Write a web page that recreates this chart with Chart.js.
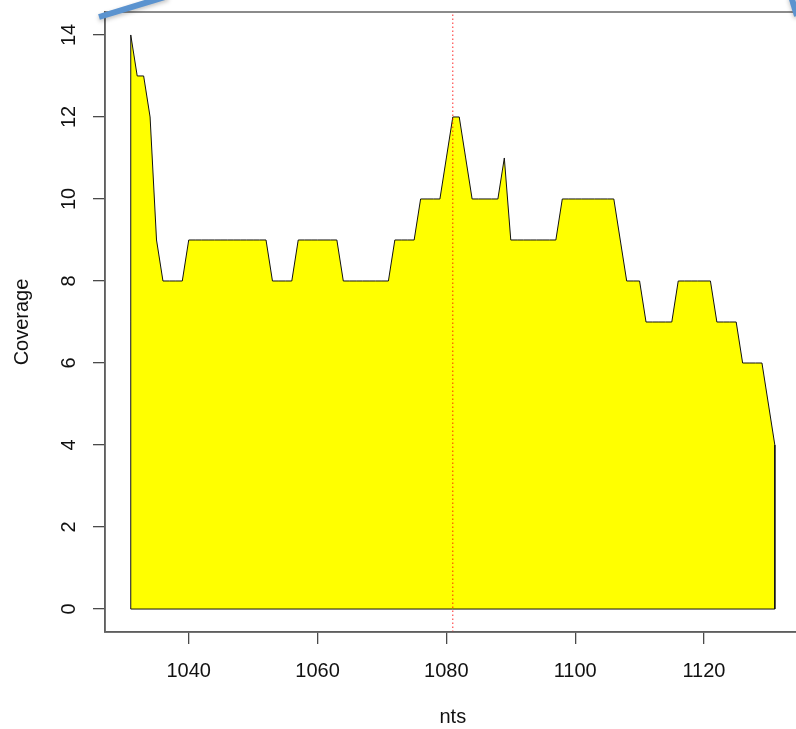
<!DOCTYPE html>
<html>
<head>
<meta charset="utf-8">
<script src="https://cdn.jsdelivr.net/npm/chart.js@4/dist/chart.umd.min.js"></script>
<style>
  html, body { margin: 0; padding: 0; background: #ffffff; overflow: hidden; }
  #wrap { width: 806px; height: 729px; }
</style>
</head>
<body>
<div id="wrap"><canvas id="c" width="806" height="729"></canvas></div>
<script>
// ---- data ----
const positions = [
  1031,1032,1033,1034,1035,1036,1037,1038,1039,1040,
  1041,1042,1043,1044,1045,1046,1047,1048,1049,1050,
  1051,1052,1053,1054,1055,1056,1057,1058,1059,1060,
  1061,1062,1063,1064,1065,1066,1067,1068,1069,1070,
  1071,1072,1073,1074,1075,1076,1077,1078,1079,1080,
  1081,1082,1083,1084,1085,1086,1087,1088,1089,1090,
  1091,1092,1093,1094,1095,1096,1097,1098,1099,1100,
  1101,1102,1103,1104,1105,1106,1107,1108,1109,1110,
  1111,1112,1113,1114,1115,1116,1117,1118,1119,1120,
  1121,1122,1123,1124,1125,1126,1127,1128,1129,1130,
  1131
];
const coverage = [
  14,13,13,12,9,8,8,8,8,9,
  9,9,9,9,9,9,9,9,9,9,
  9,9,8,8,8,8,9,9,9,9,
  9,9,9,8,8,8,8,8,8,8,
  8,9,9,9,9,10,10,10,10,11,
  12,12,11,10,10,10,10,10,11,9,
  9,9,9,9,9,9,9,10,10,10,
  10,10,10,10,10,10,9,8,8,8,
  7,7,7,7,7,8,8,8,8,8,
  8,7,7,7,7,6,6,6,6,5,
  4
];
const markerPos = 1081;
const xTicks = [1040, 1060, 1080, 1100, 1120];
const yTicks = [0, 2, 4, 6, 8, 10, 12, 14];
const xRange = [1027, 1135];
const yRange = [-0.56, 14.56];
const xTitle = 'nts';
const yTitle = 'Coverage';

// ---- build datasets ----
const areaPts = [{x: positions[0], y: 0}];
positions.forEach((p, i) => areaPts.push({x: p, y: coverage[i]}));
areaPts.push({x: positions[positions.length - 1], y: 0});
const basePts = [{x: positions[0], y: 0}, {x: positions[positions.length - 1], y: 0}];
const markerPts = [{x: markerPos, y: yRange[0]}, {x: markerPos, y: yRange[1]}];

const FONT = '"Liberation Sans", Arial, Helvetica, sans-serif';
const axisColor = '#4a4a4a';

const boxPlugin = {
  id: 'box',
  afterDatasetsDraw(chart) {
    const a = chart.chartArea, ctx = chart.ctx;
    ctx.save();
    ctx.strokeStyle = '#666';
    ctx.lineWidth = 1.5;
    ctx.strokeRect(a.left, a.top, a.right - a.left, a.bottom - a.top);
    ctx.restore();
  },
  afterDraw(chart) {
    const ctx = chart.ctx;
    ctx.save();
    ctx.shadowColor = 'rgba(0,0,0,0.25)';
    ctx.shadowBlur = 4;
    ctx.shadowOffsetY = 2;
    ctx.strokeStyle = '#5b93cf';
    ctx.lineWidth = 6;
    ctx.beginPath();
    ctx.moveTo(99, 17);
    ctx.lineTo(168, -4);
    ctx.stroke();
    ctx.beginPath();
    ctx.moveTo(791, -4);
    ctx.lineTo(797, 16);
    ctx.stroke();
    ctx.restore();
  }
};

const plainLabel = v => String(v);

new Chart(document.getElementById('c'), {
  type: 'scatter',
  data: {
    datasets: [
      {
        data: markerPts,
        showLine: true,
        borderColor: 'rgba(255,0,0,0.85)',
        borderWidth: 1,
        borderDash: [1.5, 2.5],
        pointRadius: 0,
        fill: false,
        order: 0
      },
      {
        data: basePts,
        showLine: true,
        borderColor: '#111',
        borderWidth: 1,
        pointRadius: 0,
        fill: false,
        order: 1
      },
      {
        data: areaPts,
        showLine: true,
        borderColor: '#111',
        borderWidth: 1,
        backgroundColor: '#ffff00',
        pointRadius: 0,
        tension: 0,
        fill: 'origin',
        order: 2
      }
    ]
  },
  options: {
    responsive: false,
    animation: false,
    events: [],
    layout: { padding: { left: 0, top: 12, right: 5.4, bottom: 0 } },
    plugins: { legend: { display: false }, tooltip: { enabled: false } },
    scales: {
      x: {
        type: 'linear',
        min: xRange[0], max: xRange[1],
        afterBuildTicks: s => { s.ticks = xTicks.map(v => ({value: v})); },
        afterFit: s => { s.height = 97; s.paddingLeft = 0; s.paddingRight = 0; },
        grid: { drawOnChartArea: false, drawTicks: true, tickLength: 12, color: axisColor, lineWidth: 1.3 },
        border: { display: true, color: axisColor, width: 1.5 },
        ticks: { color: '#111', font: { family: FONT, size: 20 }, padding: 15, maxRotation: 0, minRotation: 0, autoSkip: false, callback: plainLabel },
        title: { display: true, text: xTitle, color: '#111', font: { family: FONT, size: 20 }, padding: { top: 0, bottom: 0 } }
      },
      y: {
        type: 'linear',
        min: yRange[0], max: yRange[1],
        afterBuildTicks: s => { s.ticks = yTicks.map(v => ({value: v})); },
        afterFit: s => { s.width = 105; s.paddingTop = 0; s.paddingBottom = 0; },
        grid: { drawOnChartArea: false, drawTicks: true, tickLength: 12, color: axisColor, lineWidth: 1.3 },
        border: { display: true, color: axisColor, width: 1.5 },
        ticks: { color: '#111', font: { family: FONT, size: 20 }, padding: 12, minRotation: 90, maxRotation: 90, crossAlign: 'center', autoSkip: false, callback: plainLabel },
        title: { display: true, text: yTitle, color: '#111', font: { family: FONT, size: 20 }, padding: { top: 10, bottom: 0 } }
      }
    }
  },
  plugins: [boxPlugin]
});
</script>
</body>
</html>
